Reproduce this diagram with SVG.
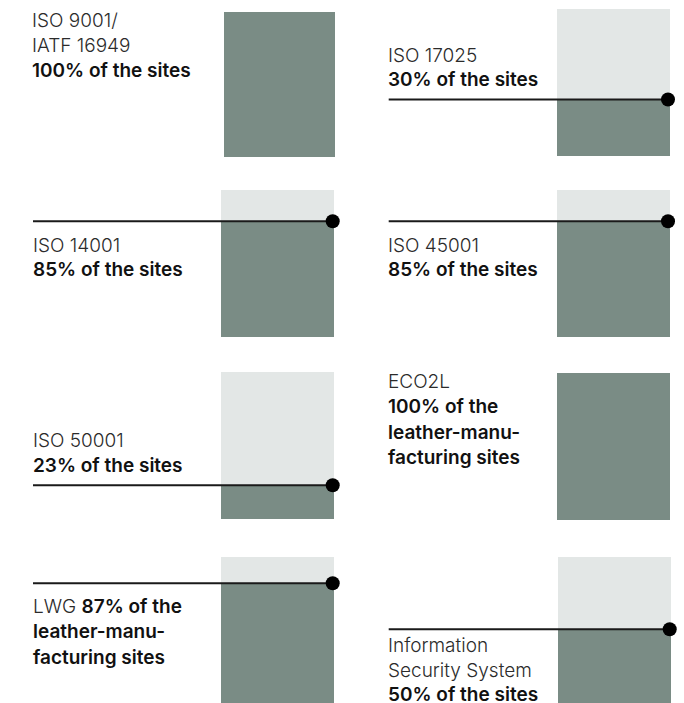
<svg xmlns="http://www.w3.org/2000/svg" width="684" height="703" viewBox="0 0 684 703">
<style>
.bg{fill:#ffffff}
.dark{fill:#7a8c85}
.light{fill:#e3e7e6}
.ln{stroke:#1a1a1a;stroke-width:2;fill:none}
.dot{fill:#000000}
text{font-family:Inter,"Liberation Sans","DejaVu Sans",sans-serif;font-size:19px}
.r{font-weight:300;fill:#2b2b2b}
.b{font-weight:600;fill:#111111}
</style>
<rect class="bg" x="0" y="0" width="684" height="703"/>
<g id="iso9001">
<rect class="dark" x="224" y="12" width="111" height="145"/>
<text x="32" y="27" class="r">ISO 9001/</text>
<text x="32" y="52" class="r">IATF 16949</text>
<text x="32" y="77" class="b">100% of the sites</text>
</g>
<g id="iso17025">
<rect class="light" x="557" y="9" width="113" height="147"/>
<rect class="dark" x="557" y="99.5" width="113" height="56.5"/>
<text x="388" y="62" class="r">ISO 17025</text>
<text x="388" y="86" class="b">30% of the sites</text>
</g>
<g id="iso14001">
<rect class="light" x="221" y="190" width="113" height="147"/>
<rect class="dark" x="221" y="221.3" width="113" height="115.7"/>
<text x="33" y="251.7" class="r">ISO 14001</text>
<text x="33" y="275.7" class="b">85% of the sites</text>
</g>
<g id="iso45001">
<rect class="light" x="557" y="190" width="113" height="147"/>
<rect class="dark" x="557" y="221.3" width="113" height="115.7"/>
<text x="388" y="251.7" class="r">ISO 45001</text>
<text x="388" y="275.7" class="b">85% of the sites</text>
</g>
<g id="iso50001">
<rect class="light" x="221" y="372" width="113" height="147"/>
<rect class="dark" x="221" y="485.3" width="113" height="33.7"/>
<text x="33" y="447.3" class="r">ISO 50001</text>
<text x="33" y="472.3" class="b">23% of the sites</text>
</g>
<g id="eco2l">
<rect class="dark" x="557" y="373" width="113" height="147"/>
<text x="388" y="387.7" class="r">ECO2L</text>
<text x="388" y="413.3" class="b">100% of the</text>
<text x="388" y="439" class="b">leather-manu-</text>
<text x="388" y="464" class="b">facturing sites</text>
</g>
<g id="lwg">
<rect class="light" x="221" y="557" width="113" height="150"/>
<rect class="dark" x="221" y="583.3" width="113" height="123.7"/>
<text x="33" y="613.3"><tspan class="r">LWG </tspan><tspan class="b">87% of the</tspan></text>
<text x="33" y="638.3" class="b">leather-manu-</text>
<text x="33" y="664" class="b">facturing sites</text>
</g>
<g id="infosec">
<rect class="light" x="558" y="557" width="113" height="150"/>
<rect class="dark" x="558" y="629.3" width="113" height="77.7"/>
<text x="388" y="651.7" class="r">Information</text>
<text x="388" y="677.3" class="r">Security System</text>
<text x="388" y="701" class="b">50% of the sites</text>
</g>
<g id="connectors">
<line class="ln" x1="388.7" y1="99.5" x2="668" y2="99.5"/>
<circle class="dot" cx="668" cy="99.5" r="7"/>
<line class="ln" x1="33" y1="221.3" x2="332.7" y2="221.3"/>
<circle class="dot" cx="332.7" cy="221.3" r="7"/>
<line class="ln" x1="388.7" y1="221.3" x2="668" y2="221.3"/>
<circle class="dot" cx="668" cy="221.3" r="7"/>
<line class="ln" x1="33" y1="485.3" x2="332.7" y2="485.3"/>
<circle class="dot" cx="332.7" cy="485.3" r="7"/>
<line class="ln" x1="33" y1="583.3" x2="332.7" y2="583.3"/>
<circle class="dot" cx="332.7" cy="583.3" r="7"/>
<line class="ln" x1="388.7" y1="629.3" x2="669.7" y2="629.3"/>
<circle class="dot" cx="669.7" cy="629.3" r="7"/>
</g>
</svg>
